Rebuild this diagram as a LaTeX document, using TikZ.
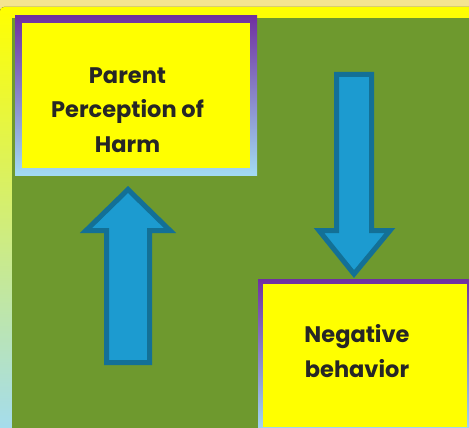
\documentclass[tikz,border=0pt]{standalone}
\usepackage{fontspec}
\setmainfont{Poppins}
\definecolor{paleband}{HTML}{F4E490}
\definecolor{boxyellow}{HTML}{FFFF00}
\definecolor{fieldgreen}{HTML}{6E992E}
\definecolor{rimpurple}{HTML}{7030A0}
\definecolor{rimblue}{HTML}{A2DBF3}
\definecolor{arrowfill}{HTML}{1C9BD0}
\definecolor{arrowline}{HTML}{137096}
\definecolor{inkgray}{HTML}{262626}
\tikzset{
	framebox/.style={rectangle,inner sep=0pt,top color=rimpurple,bottom color=rimblue,
		path picture={\fill[boxyellow] ([shift={(#1,-#1)}]path picture bounding box.north west)
			rectangle ([shift={(-#1,#1)}]path picture bounding box.south east);}},
	caption/.style={align=center,inner sep=0pt,text=inkgray,font=\bfseries\fontsize{22.5}{34.5}\selectfont},
	blockarrow/.style={fill=arrowfill,draw=arrowline,line width=5pt,line join=miter}
}
\begin{document}
\begin{tikzpicture}[x=1pt,y=-1pt]
		\useasboundingbox (0,0) rectangle (469,428);
		\clip (0,0) rectangle (469,428);
		% backdrop
		\fill[paleband] (0,0) rectangle (469,428);
		\fill[rounded corners=4pt,top color=boxyellow,bottom color=rimblue] (0,7) rectangle (480,440);
		\fill[fieldgreen] (12,18) rectangle (469,428);
		% the two boxes
		\node[framebox=7pt,minimum width=242pt,minimum height=159pt] (harmbox) at (136,95.5) {};
		\node[caption] (harm) at ([shift={(-8.5pt,-14.5pt)}]harmbox.center) {Parent\\Perception of\\Harm};
		\node[framebox=5pt,minimum width=214pt,minimum height=153pt] (behavbox) at (365,355.5) {};
		\node[caption] (behav) at ([shift={(-8pt,4.5pt)}]behavbox.center) {Negative\\behavior};
		% arrows
		\draw[blockarrow] (106.5,362.5) -- (106.5,230.5) -- (86,230.5) -- (128,189.5) -- (170,230.5) -- (149.5,230.5) -- (149.5,362.5) -- cycle;
		\draw[blockarrow] (336.5,74.5) -- (371.5,74.5) -- (371.5,230.5) -- (390,230.5) -- (354,274) -- (319,230.5) -- (336.5,230.5) -- cycle;
\end{tikzpicture}
\end{document}
